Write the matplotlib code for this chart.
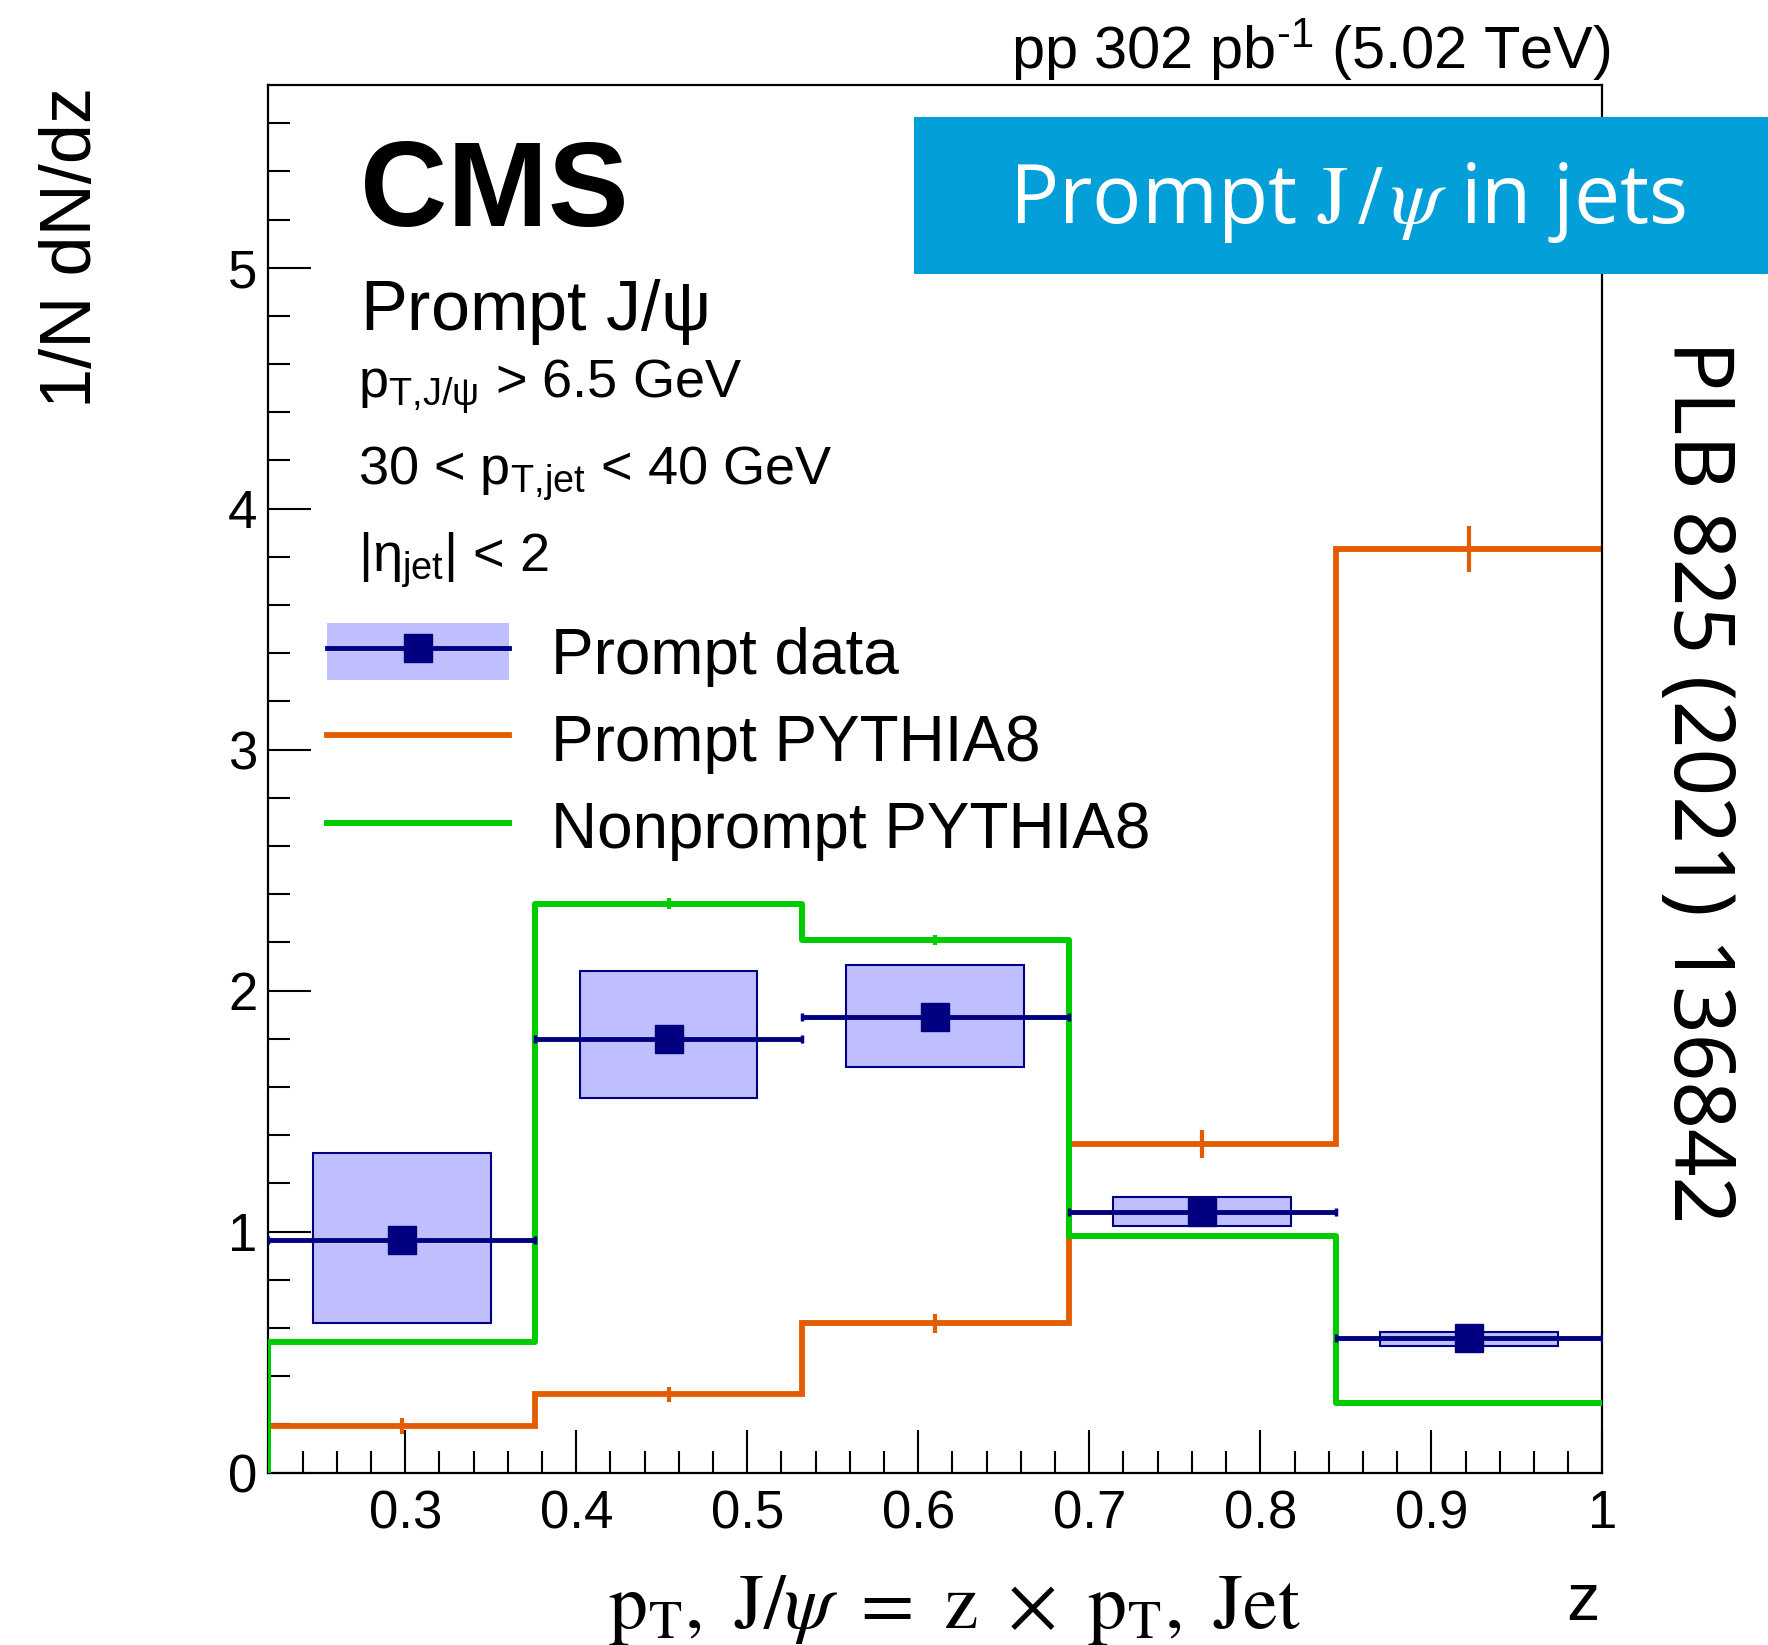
import matplotlib
matplotlib.use("Agg")
import matplotlib.pyplot as plt
import numpy as np
from matplotlib.patches import Rectangle, Patch
from matplotlib.lines import Line2D
from matplotlib.ticker import MultipleLocator, FuncFormatter

plt.rcParams['font.family'] = ['Liberation Sans', 'DejaVu Sans']
plt.rcParams['mathtext.fontset'] = 'custom'
plt.rcParams['mathtext.rm'] = 'Liberation Sans'
plt.rcParams['mathtext.it'] = 'Liberation Sans'
plt.rcParams['mathtext.bf'] = 'Liberation Sans:bold'
plt.rcParams['mathtext.sf'] = 'Liberation Sans'

# z bins
z_edges = [0.22, 0.376, 0.532, 0.688, 0.844, 1.0]

# prompt data (points + syst boxes)
data_vals = [0.966, 1.801, 1.892, 1.083, 0.557]
data_stat = [0.02, 0.02, 0.02, 0.015, 0.01]
syst_lo = [0.621, 1.553, 1.682, 1.022, 0.527]
syst_hi = [1.326, 2.083, 2.108, 1.142, 0.585]

# PYTHIA8 predictions
prompt_mc = [0.194, 0.325, 0.619, 1.362, 3.834]
prompt_mc_err = [0.034, 0.032, 0.041, 0.058, 0.095]
nonprompt_mc = [0.542, 2.361, 2.211, 0.983, 0.287]
nonprompt_mc_err = [0.010, 0.023, 0.020, 0.010, 0.008]

labels = ['Prompt data', 'Prompt PYTHIA8', 'Nonprompt PYTHIA8']

navy = '#000080'
boxfill = '#bfbfff'
orange = '#e35d00'
green = '#00cc00'

edges = np.array(z_edges)
centers = (edges[:-1] + edges[1:]) / 2
widths = np.diff(edges)

fig = plt.figure(figsize=(17.68, 16.45), dpi=100)
ax = fig.add_axes([0.1518, 0.1048, 0.7545, 0.8438])

# systematic boxes
for c, w, lo, hi in zip(centers, widths, syst_lo, syst_hi):
    ax.add_patch(Rectangle((c - w / 3, lo), 2 * w / 3, hi - lo,
                           facecolor=boxfill, edgecolor=navy, lw=1.5, zorder=1))

# prompt pythia
ax.stairs(prompt_mc, edges, baseline=None, color=orange, lw=4.2, zorder=2)
ax.errorbar(centers, prompt_mc, yerr=prompt_mc_err, fmt='none', ecolor=orange,
            elinewidth=3, zorder=2)

# nonprompt pythia (starts from zero at left edge)
xs = np.r_[edges[0], edges]
ys = np.r_[0, nonprompt_mc, nonprompt_mc[-1]]
ax.plot(xs, ys, drawstyle='steps-post', color=green, lw=4.3, zorder=3)
ax.errorbar(centers, nonprompt_mc, yerr=nonprompt_mc_err, fmt='none', ecolor=green,
            elinewidth=3, zorder=3)

# data points
ax.errorbar(centers, data_vals, xerr=widths / 2, yerr=data_stat, fmt='s', color=navy,
            ms=20.5, lw=3.5, capsize=2.7, capthick=2.5, zorder=5)

ax.set_xlim(0.22, 1.0)
ax.set_ylim(0, 5.76)
ax.xaxis.set_major_locator(MultipleLocator(0.1))
ax.xaxis.set_minor_locator(MultipleLocator(0.02))
ax.yaxis.set_major_locator(MultipleLocator(1))
ax.yaxis.set_minor_locator(MultipleLocator(0.2))
fmt = FuncFormatter(lambda v, p: f"{v:g}")
ax.xaxis.set_major_formatter(fmt)
ax.yaxis.set_major_formatter(fmt)
ax.tick_params(which='both', direction='in', top=False, right=False, width=1.5)
ax.tick_params(which='major', length=31, labelsize=38)
ax.tick_params(which='minor', length=15.5)
ax.tick_params(axis='x', pad=12)
ax.tick_params(axis='y', pad=8)
for s in ax.spines.values():
    s.set_linewidth(1.6)

# axis titles
ax.text(0.5147, -0.112,
        r"$\mathrm{p_T,\ J}/\psi\ =\ \mathrm{z}\ \times\ \mathrm{p_T,\ Jet}$",
        transform=ax.transAxes, ha='center', va='baseline', fontsize=56,
        math_fontfamily='stix')
ax.text(0.998, -0.106, "z", transform=ax.transAxes, ha='right', va='baseline', fontsize=48)
ax.text(-0.147, 0.998, "1/N dN/dz", transform=ax.transAxes, rotation=90,
        ha='center', va='top', fontsize=52)

# labels inside
ax.text(0.0685, 0.898, "CMS", transform=ax.transAxes, fontsize=87, fontweight='bold',
        va='baseline')
ax.text(0.0685, 0.8234, r"Prompt J/$\psi$", transform=ax.transAxes, fontsize=50.5,
        va='baseline')
ax.text(0.0675, 0.7742, r"$\mathrm{p_{T{,}J/\psi}}$ > 6.5 GeV", transform=ax.transAxes,
        fontsize=39, va='baseline')
ax.text(0.0675, 0.7115, r"30 < $\mathrm{p_{T{,}jet}}$ < 40 GeV", transform=ax.transAxes,
        fontsize=39, va='baseline')
ax.text(0.0675, 0.6488, r"|$\eta_{\mathrm{jet}}$| < 2", transform=ax.transAxes,
        fontsize=39, va='baseline')

ax.text(1.006, 1.0117, "pp 302 pb$^{\u20101}$ (5.02 TeV)", transform=ax.transAxes,
        ha='right', va='baseline', fontsize=42.8)

# legend
h_data = (Patch(facecolor=boxfill, edgecolor='none'),
          Line2D([], [], color=navy, lw=3.5, marker='s', ms=20.5))
h_p = Line2D([], [], color=orange, lw=4.2)
h_np = Line2D([], [], color=green, lw=4.3)
ax.legend([h_data, h_p, h_np], labels, loc='upper left', bbox_to_anchor=(0.044, 0.612),
          frameon=False, fontsize=46, handlelength=2.85, handleheight=1.0,
          handletextpad=0.66, labelspacing=0.37, borderpad=0, borderaxespad=0)

# banner
fig.add_artist(Rectangle((914 / 1768, 1 - 274 / 1645), (1768 - 914) / 1768, 157 / 1645,
                         transform=fig.transFigure, facecolor='#039fd9',
                         edgecolor='none', zorder=3))
fig.text(1009 / 1768, 1 - 223 / 1645, r"Prompt $\mathrm{J}\,/\,\psi$ in jets", color='white',
         fontsize=59, family='Open Sans', math_fontfamily='stix', va='baseline', zorder=4)

fig.text(0.959, 0.525, "PLB 825 (2021) 136842", rotation=-90, ha='center', va='center',
         fontsize=60, family='Noto Sans')

fig.savefig('out.png', dpi=100)
